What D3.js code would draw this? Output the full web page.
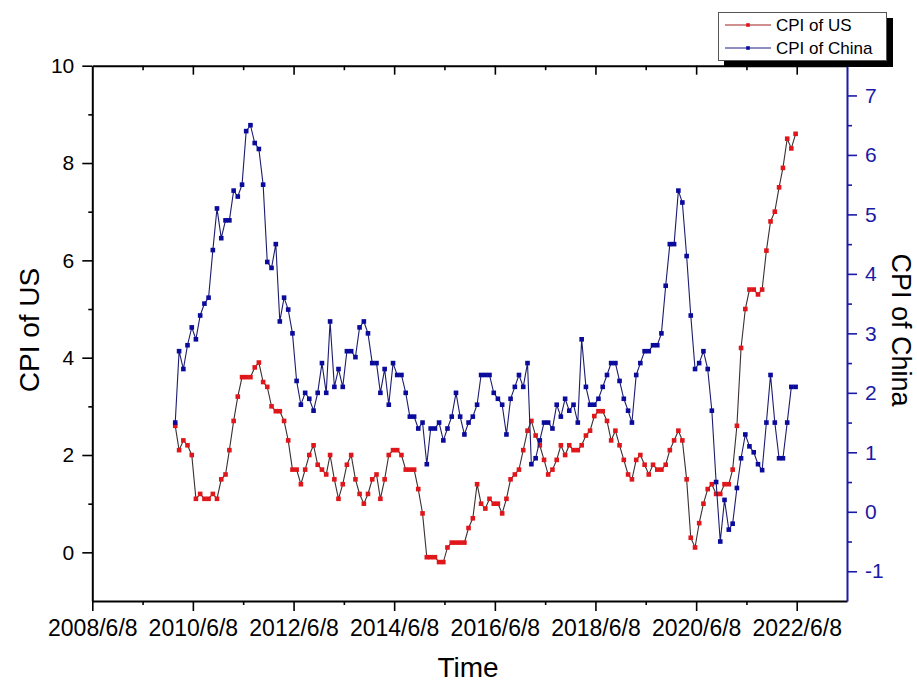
<!DOCTYPE html>
<html>
<head>
<meta charset="utf-8">
<script src="https://cdn.jsdelivr.net/npm/d3@7"></script>
<style>
  body { margin: 0; background: #fff; }
  svg { display: block; }
  text { font-family: "Liberation Sans", Arial, sans-serif; }
</style>
</head>
<body>
<svg id="chart" width="917" height="682"></svg>
<script>
// Monthly year-on-year CPI (%), January 2010 to May 2022
const firstMonth = "2010-01";

const usCPI = [
  2.6, 2.1, 2.3, 2.2, 2.0, 1.1, 1.2, 1.1, 1.1, 1.2, 1.1, 1.5,
  1.6, 2.1, 2.7, 3.2, 3.6, 3.6, 3.6, 3.8, 3.9, 3.5, 3.4, 3.0,
  2.9, 2.9, 2.7, 2.3, 1.7, 1.7, 1.4, 1.7, 2.0, 2.2, 1.8, 1.7,
  1.6, 2.0, 1.5, 1.1, 1.4, 1.8, 2.0, 1.5, 1.2, 1.0, 1.2, 1.5,
  1.6, 1.1, 1.5, 2.0, 2.1, 2.1, 2.0, 1.7, 1.7, 1.7, 1.3, 0.8,
  -0.1, -0.1, -0.1, -0.2, -0.2, 0.1, 0.2, 0.2, 0.2, 0.2, 0.5, 0.7,
  1.4, 1.0, 0.9, 1.1, 1.0, 1.0, 0.8, 1.1, 1.5, 1.6, 1.7, 2.1,
  2.5, 2.7, 2.4, 2.2, 1.9, 1.6, 1.7, 1.9, 2.2, 2.0, 2.2, 2.1,
  2.1, 2.2, 2.4, 2.5, 2.8, 2.9, 2.9, 2.7, 2.3, 2.5, 2.2, 1.9,
  1.6, 1.5, 1.9, 2.0, 1.8, 1.6, 1.8, 1.7, 1.7, 1.8, 2.1, 2.3,
  2.5, 2.3, 1.5, 0.3, 0.1, 0.6, 1.0, 1.3, 1.4, 1.2, 1.2, 1.4,
  1.4, 1.7, 2.6, 4.2, 5.0, 5.4, 5.4, 5.3, 5.4, 6.2, 6.8, 7.0,
  7.5, 7.9, 8.5, 8.3, 8.6
];

const chinaCPI = [
  1.5, 2.7, 2.4, 2.8, 3.1, 2.9, 3.3, 3.5, 3.6, 4.4, 5.1, 4.6,
  4.9, 4.9, 5.4, 5.3, 5.5, 6.4, 6.5, 6.2, 6.1, 5.5, 4.2, 4.1,
  4.5, 3.2, 3.6, 3.4, 3.0, 2.2, 1.8, 2.0, 1.9, 1.7, 2.0, 2.5,
  2.0, 3.2, 2.1, 2.4, 2.1, 2.7, 2.7, 2.6, 3.1, 3.2, 3.0, 2.5,
  2.5, 2.0, 2.4, 1.8, 2.5, 2.3, 2.3, 2.0, 1.6, 1.6, 1.4, 1.5,
  0.8, 1.4, 1.4, 1.5, 1.2, 1.4, 1.6, 2.0, 1.6, 1.3, 1.5, 1.6,
  1.8, 2.3, 2.3, 2.3, 2.0, 1.9, 1.8, 1.3, 1.9, 2.1, 2.3, 2.1,
  2.5, 0.8, 0.9, 1.2, 1.5, 1.5, 1.4, 1.8, 1.6, 1.9, 1.7, 1.8,
  1.5, 2.9, 2.1, 1.8, 1.8, 1.9, 2.1, 2.3, 2.5, 2.5, 2.2, 1.9,
  1.7, 1.5, 2.3, 2.5, 2.7, 2.7, 2.8, 2.8, 3.0, 3.8, 4.5, 4.5,
  5.4, 5.2, 4.3, 3.3, 2.4, 2.5, 2.7, 2.4, 1.7, 0.5, -0.5, 0.2,
  -0.3, -0.2, 0.4, 0.9, 1.3, 1.1, 1.0, 0.8, 0.7, 1.5, 2.3, 1.5,
  0.9, 0.9, 1.5, 2.1, 2.1
];

const xTickLabels = ["2008/6/8", "2010/6/8", "2012/6/8", "2014/6/8",
                     "2016/6/8", "2018/6/8", "2020/6/8", "2022/6/8"];
const xMinorLabels = ["2009/6/8", "2011/6/8", "2013/6/8", "2015/6/8",
                      "2017/6/8", "2019/6/8", "2021/6/8"];
const xDomainLabels = ["2008/6/8", "2023/6/8"];
const usTicks = [0, 2, 4, 6, 8, 10];
const usMinorTicks = [1, 3, 5, 7, 9];
const chinaTicks = [-1, 0, 1, 2, 3, 4, 5, 6, 7];
const chinaMinorTicks = [-0.5, 0.5, 1.5, 2.5, 3.5, 4.5, 5.5, 6.5];
const seriesNames = ["CPI of US", "CPI of China"];

const parseLabel = d3.timeParse("%Y/%-m/%-d");
const monthStart = d3.timeParse("%Y-%m")(firstMonth);
// each monthly value sits on the last day of its month
const monthDate = i => d3.timeDay.offset(d3.timeMonth.offset(monthStart, i + 1), -1);

const usData = usCPI.map((v, i) => ({ date: monthDate(i), value: v }));
const chinaData = chinaCPI.map((v, i) => ({ date: monthDate(i), value: v }));

const L = 92.3, R = 847, T = 65.7, B = 601;
const blue = "#1a1aa6";
const red = "#e0161b";

const svg = d3.select("#chart");

const x = d3.scaleTime().domain(xDomainLabels.map(parseLabel)).range([L, R]);
const yUS = d3.scaleLinear().domain([-1, 10]).range([B, T]);
const yCN = d3.scaleLinear().domain([-1.5, 7.5]).range([B, T]);

function styleAxis(g, color, fontSize) {
  g.select(".domain").attr("stroke", color).attr("stroke-width", 2);
  g.selectAll(".tick line").attr("stroke", color).attr("stroke-width", 1.6);
  g.selectAll(".tick text").attr("fill", color).attr("font-size", fontSize)
    .attr("font-family", "'Liberation Sans', Arial, sans-serif");
}

// bottom axis
const fmtLabel = d3.timeFormat("%Y/%-m/%-d");
const gxMinor = svg.append("g").attr("transform", `translate(0,${B})`)
  .call(d3.axisBottom(x).tickValues(xMinorLabels.map(parseLabel)).tickSize(4).tickFormat(""));
styleAxis(gxMinor, "#000", 20);
gxMinor.select(".domain").remove();
const gx = svg.append("g").attr("transform", `translate(0,${B})`)
  .call(d3.axisBottom(x).tickValues(xTickLabels.map(parseLabel)).tickSizeInner(10).tickSizeOuter(0)
    .tickPadding(9).tickFormat(fmtLabel));
styleAxis(gx, "#000", 23);

// top axis, ticks pointing inwards
const gtMinor = svg.append("g").attr("transform", `translate(0,${T})`)
  .call(d3.axisTop(x).tickValues(xMinorLabels.map(parseLabel)).tickSize(-4.5).tickFormat(""));
styleAxis(gtMinor, "#000", 20);
gtMinor.select(".domain").remove();
const gt = svg.append("g").attr("transform", `translate(0,${T})`)
  .call(d3.axisTop(x).tickValues(xTickLabels.map(parseLabel).slice(1)).tickSizeInner(-9).tickSizeOuter(0).tickFormat(""));
styleAxis(gt, "#000", 20);

// left axis (US)
const gyMinor = svg.append("g").attr("transform", `translate(${L},0)`)
  .call(d3.axisLeft(yUS).tickValues(usMinorTicks).tickSize(4).tickFormat(""));
styleAxis(gyMinor, "#000", 20);
gyMinor.select(".domain").remove();
const gy = svg.append("g").attr("transform", `translate(${L},0)`)
  .call(d3.axisLeft(yUS).tickValues(usTicks).tickSizeInner(10).tickSizeOuter(0).tickPadding(8)
    .tickFormat(d3.format("d")));
styleAxis(gy, "#000", 21);

// right axis (China)
const grMinor = svg.append("g").attr("transform", `translate(${R},0)`)
  .call(d3.axisRight(yCN).tickValues(chinaMinorTicks).tickSize(5).tickFormat(""));
styleAxis(grMinor, blue, 20);
grMinor.select(".domain").remove();
const gr = svg.append("g").attr("transform", `translate(${R},0)`)
  .call(d3.axisRight(yCN).tickValues(chinaTicks).tickSizeInner(10).tickSizeOuter(0).tickPadding(8)
    .tickFormat(d => d < 0 ? "-" + Math.abs(d) : String(d)));
styleAxis(gr, blue, 21);

// axis titles
svg.append("text").attr("transform", "translate(39,330) rotate(-90)")
  .attr("text-anchor", "middle").attr("font-size", 28).text("CPI of US");
svg.append("text").attr("transform", "translate(892,330) rotate(90)")
  .attr("text-anchor", "middle").attr("font-size", 27).text("CPI of China");
svg.append("text").attr("x", 468).attr("y", 677)
  .attr("text-anchor", "middle").attr("font-size", 28).text("Time");

// series
const lineUS = d3.line().x(d => x(d.date)).y(d => yUS(d.value));
const lineCN = d3.line().x(d => x(d.date)).y(d => yCN(d.value));
const ms = 4.6;

svg.append("path").datum(usData).attr("d", lineUS)
  .attr("fill", "none").attr("stroke", "#3a3030").attr("stroke-width", 1.1);
svg.append("g").selectAll("rect").data(usData).join("rect")
  .attr("x", d => x(d.date) - ms / 2).attr("y", d => yUS(d.value) - ms / 2)
  .attr("width", ms).attr("height", ms).attr("fill", red);

svg.append("path").datum(chinaData).attr("d", lineCN)
  .attr("fill", "none").attr("stroke", "#1c1c70").attr("stroke-width", 1.1);
svg.append("g").selectAll("rect").data(chinaData).join("rect")
  .attr("x", d => x(d.date) - ms / 2).attr("y", d => yCN(d.value) - ms / 2)
  .attr("width", ms).attr("height", ms).attr("fill", "#0a0a9c");

// legend with drop shadow
const lg = svg.append("g");
lg.append("rect").attr("x", 724).attr("y", 18).attr("width", 169).attr("height", 49).attr("fill", "#000");
lg.append("rect").attr("x", 718.5).attr("y", 12.5).attr("width", 168).attr("height", 48)
  .attr("fill", "#fff").attr("stroke", "#555").attr("stroke-width", 1);
const legendRows = [
  { name: seriesNames[0], line: "#a02020", mark: red, y: 25 },
  { name: seriesNames[1], line: "#1c1c80", mark: "#0a0a9c", y: 48 }
];
legendRows.forEach(r => {
  lg.append("line").attr("x1", 725).attr("x2", 771).attr("y1", r.y).attr("y2", r.y)
    .attr("stroke", r.line).attr("stroke-width", 1);
  lg.append("rect").attr("x", 748 - 1.8).attr("y", r.y - 1.8).attr("width", 3.6).attr("height", 3.6).attr("fill", r.mark);
  lg.append("text").attr("x", 776).attr("y", r.y + 6).attr("font-size", 17).text(r.name);
});
</script>
</body>
</html>
